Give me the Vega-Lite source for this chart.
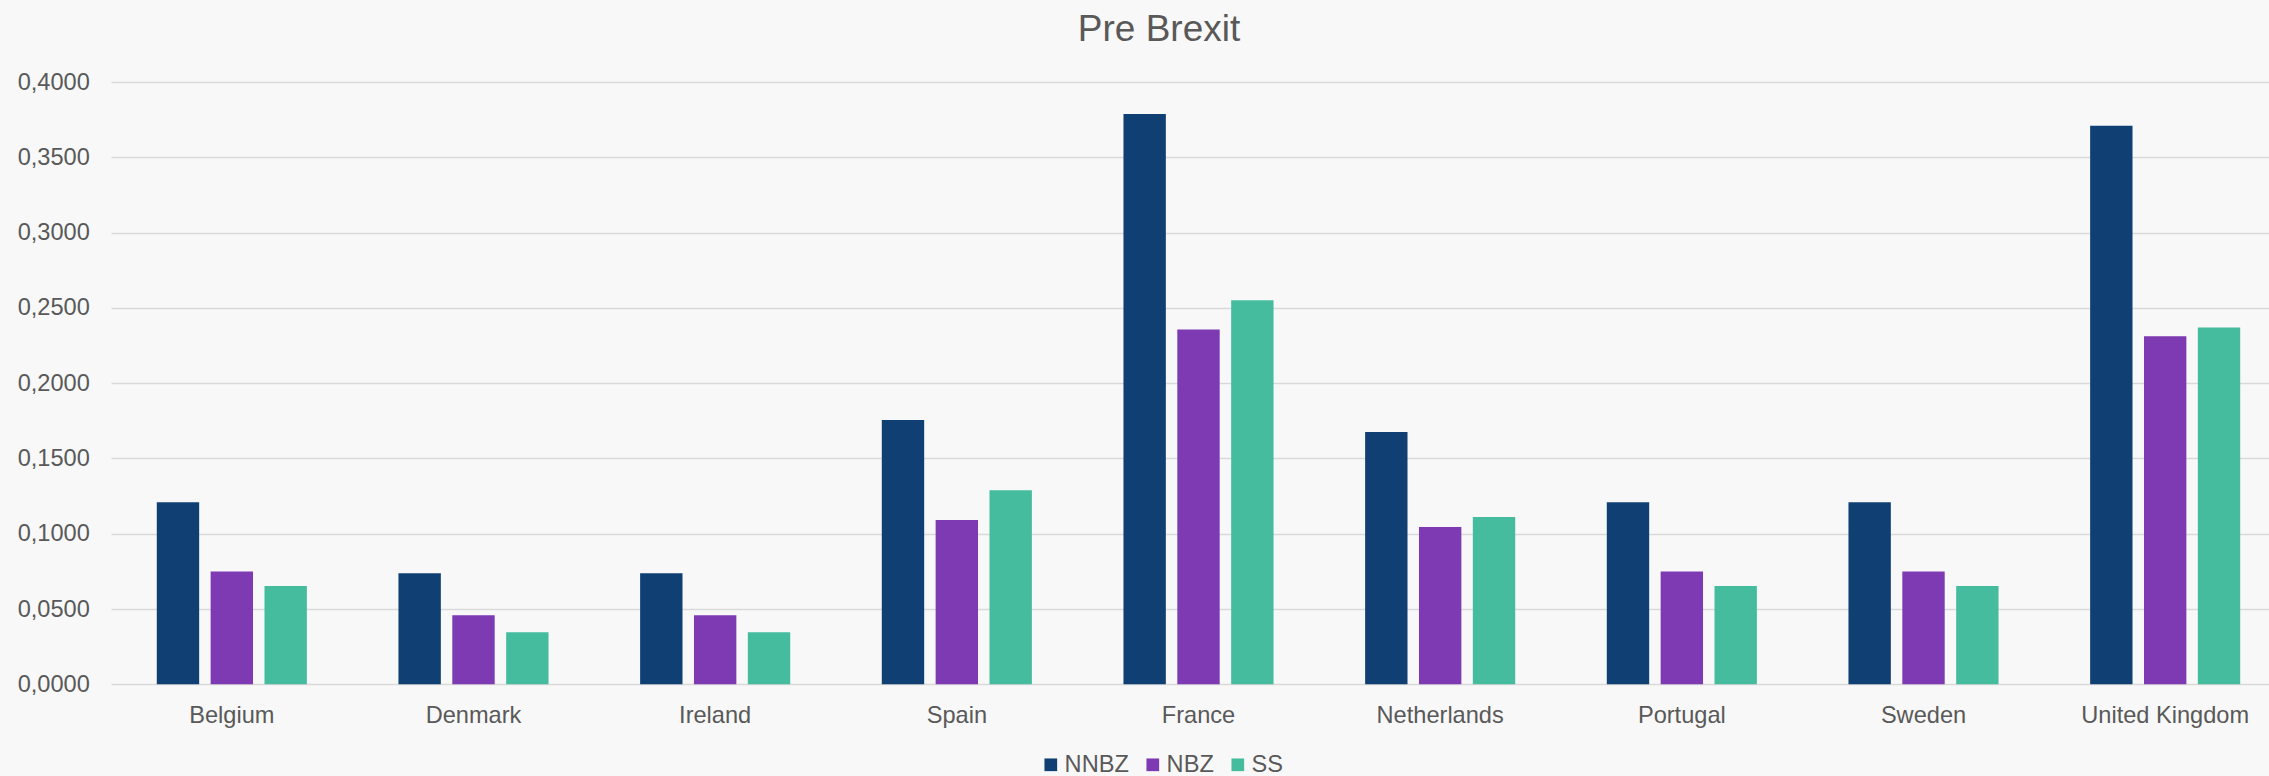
{
  "$schema": "https://vega.github.io/schema/vega-lite/v6.json",
  "autosize": {"type": "none"},
  "padding": {"left": 111, "top": 82, "right": 0, "bottom": 91.7},
  "width": 2158,
  "height": 602.3,
  "background": "#F8F8F8",
  "title": {
    "text": "Pre Brexit",
    "frame": "group",
    "anchor": "middle",
    "baseline": "alphabetic",
    "offset": 31,
    "dx": -31,
    "dy": 39,
    "font": "Liberation Sans",
    "fontSize": 37,
    "fontWeight": "normal",
    "color": "#595959"
  },
  "data": {
    "values": [
      {"country": "Belgium", "series": "NNBZ", "value": 0.1209},
      {"country": "Belgium", "series": "NBZ", "value": 0.0749},
      {"country": "Belgium", "series": "SS", "value": 0.0653},
      {"country": "Denmark", "series": "NNBZ", "value": 0.0737},
      {"country": "Denmark", "series": "NBZ", "value": 0.0458},
      {"country": "Denmark", "series": "SS", "value": 0.0345},
      {"country": "Ireland", "series": "NNBZ", "value": 0.0737},
      {"country": "Ireland", "series": "NBZ", "value": 0.0458},
      {"country": "Ireland", "series": "SS", "value": 0.0345},
      {"country": "Spain", "series": "NNBZ", "value": 0.1755},
      {"country": "Spain", "series": "NBZ", "value": 0.1091},
      {"country": "Spain", "series": "SS", "value": 0.1288},
      {"country": "France", "series": "NNBZ", "value": 0.3788},
      {"country": "France", "series": "NBZ", "value": 0.2356},
      {"country": "France", "series": "SS", "value": 0.2551},
      {"country": "Netherlands", "series": "NNBZ", "value": 0.1676},
      {"country": "Netherlands", "series": "NBZ", "value": 0.1045},
      {"country": "Netherlands", "series": "SS", "value": 0.1111},
      {"country": "Portugal", "series": "NNBZ", "value": 0.1209},
      {"country": "Portugal", "series": "NBZ", "value": 0.0749},
      {"country": "Portugal", "series": "SS", "value": 0.0653},
      {"country": "Sweden", "series": "NNBZ", "value": 0.1209},
      {"country": "Sweden", "series": "NBZ", "value": 0.0749},
      {"country": "Sweden", "series": "SS", "value": 0.0653},
      {"country": "United Kingdom", "series": "NNBZ", "value": 0.3709},
      {"country": "United Kingdom", "series": "NBZ", "value": 0.2311},
      {"country": "United Kingdom", "series": "SS", "value": 0.2370}
    ]
  },
  "mark": {"type": "bar"},
  "encoding": {
    "x": {
      "field": "country",
      "type": "nominal",
      "sort": ["Belgium", "Denmark", "Ireland", "Spain", "France", "Netherlands", "Portugal", "Sweden", "United Kingdom"],
      "scale": {"paddingInner": 0.379, "paddingOuter": 0.1543, "align": 0.614},
      "axis": {
        "title": null,
        "labelAngle": 0,
        "labelFont": "Liberation Sans",
        "labelFontSize": 23.6,
        "labelColor": "#595959",
        "labelPadding": 18.8,
        "ticks": false,
        "tickSize": 0,
        "domain": false,
        "grid": false
      }
    },
    "xOffset": {
      "field": "series",
      "type": "nominal",
      "sort": ["NNBZ", "NBZ", "SS"],
      "scale": {"paddingInner": 0.213, "paddingOuter": 0}
    },
    "y": {
      "field": "value",
      "type": "quantitative",
      "scale": {"domain": [0, 0.4], "nice": false},
      "axis": {
        "title": null,
        "values": [0, 0.05, 0.1, 0.15, 0.2, 0.25, 0.3, 0.35, 0.4],
        "labelExpr": "replace(format(datum.value, '.4f'), '.', ',')",
        "labelFont": "Liberation Sans",
        "labelFontSize": 23.6,
        "labelColor": "#595959",
        "labelPadding": 21.7,
        "ticks": false,
        "tickSize": 0,
        "domain": false,
        "grid": true,
        "gridColor": "#D9D9D9",
        "gridWidth": 1.5
      }
    },
    "color": {
      "field": "series",
      "type": "nominal",
      "sort": ["NNBZ", "NBZ", "SS"],
      "scale": {"domain": ["NNBZ", "NBZ", "SS"], "range": ["#0F3F73", "#7D3AB3", "#46BC9F"]},
      "legend": {
        "title": null,
        "orient": "none",
        "direction": "horizontal",
        "legendX": 928,
        "legendY": 671,
        "padding": 0,
        "gridAlign": "none",
        "symbolType": "square",
        "symbolSize": 161,
        "symbolStrokeWidth": 0,
        "labelFont": "Liberation Sans",
        "labelFontSize": 23.6,
        "labelColor": "#595959",
        "labelOffset": 2,
        "columnPadding": 12
      }
    }
  },
  "config": {
    "view": {"stroke": null},
    "bar": {"stroke": null}
  }
}
